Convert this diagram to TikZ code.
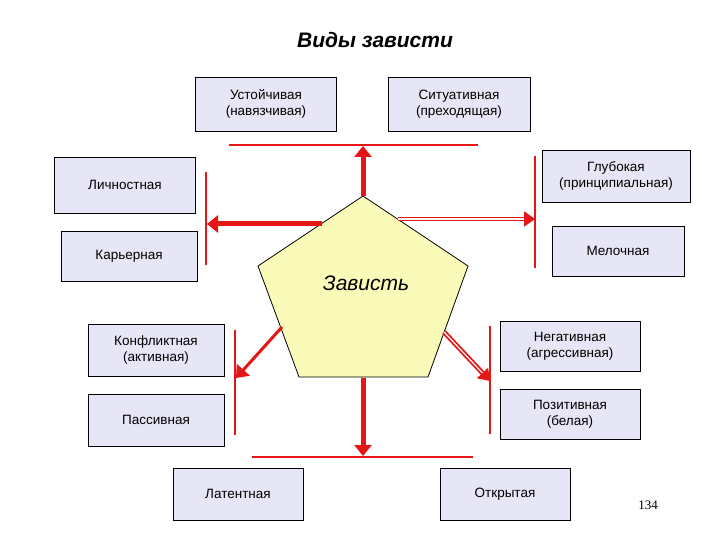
\documentclass[tikz,border=0pt]{standalone}
\usepackage{fontspec}
\setmainfont{Liberation Sans}
\newfontfamily\pagefont{Liberation Serif}
\usetikzlibrary{arrows.meta}

\definecolor{boxfill}{RGB}{230,230,246}
\definecolor{envyfill}{RGB}{250,250,185}
\definecolor{barred}{RGB}{228,22,22}

\tikzset{
    kindbox/.style={draw, thick, fill=boxfill, align=center, inner sep=2pt,
        font=\fontsize{13.5}{16}\selectfont},
    redbar/.style={barred, line width=2.4pt},
    fatarrow/.style={barred, line width=5pt, -{Triangle[length=11pt, width=17pt]}},
    twinarrow/.style={barred, line width=1.8pt, double=white, double distance=1.2pt,
        -{Triangle[length=11pt, width=15pt]}},
}

\begin{document}
\begin{tikzpicture}[x=1pt, y=-1pt, line cap=butt]
    \useasboundingbox (0,0) rectangle (720,540);

    \node[font=\fontsize{21}{25}\selectfont\bfseries\itshape] (title) at (375,40) {Виды зависти};

    % boxes
    \node[kindbox, minimum width=141pt, minimum height=54pt] (stable) at (266,104) {Устойчивая\\(навязчивая)};
    \node[kindbox, minimum width=142pt, minimum height=54pt] (situative) at (459,104) {Ситуативная\\(преходящая)};
    \node[kindbox, minimum width=141pt, minimum height=56pt] (personal) at (125,185) {Личностная};
    \node[kindbox, minimum width=136pt, minimum height=50pt] (career) at (129,256) {Карьерная};
    \node[kindbox, minimum width=148pt, minimum height=52pt] (deep) at (616,176) {Глубокая\\(принципиальная)};
    \node[kindbox, minimum width=132pt, minimum height=50pt] (petty) at (618,251) {Мелочная};
    \node[kindbox, minimum width=136pt, minimum height=52pt] (conflict) at (156,350) {Конфликтная\\(активная)};
    \node[kindbox, minimum width=136pt, minimum height=52pt] (passive) at (156,420) {Пассивная};
    \node[kindbox, minimum width=140pt, minimum height=50pt] (negative) at (570,346) {Негативная\\(агрессивная)};
    \node[kindbox, minimum width=140pt, minimum height=50pt] (positive) at (570,414) {Позитивная\\(белая)};
    \node[kindbox, minimum width=130pt, minimum height=52pt] (latent) at (238,494) {Латентная};
    \node[kindbox, minimum width=130pt, minimum height=52pt] (open) at (505,494) {Открытая};

    % bars
    \coordinate (topL) at (229,145);  \coordinate (topR) at (478,145);
    \coordinate (leftT) at (206,172); \coordinate (leftB) at (206,265);
    \coordinate (rightT) at (535,156); \coordinate (rightB) at (535,268);
    \coordinate (lowlT) at (235,330); \coordinate (lowlB) at (235,435);
    \coordinate (lowrT) at (490,326); \coordinate (lowrB) at (490,434);
    \coordinate (botL) at (252,457);  \coordinate (botR) at (473,457);
    \draw[redbar] (topL) -- (topR);
    \draw[redbar] (leftT) -- (leftB);
    \draw[redbar] (rightT) -- (rightB);
    \draw[redbar] (lowlT) -- (lowlB);
    \draw[redbar] (lowrT) -- (lowrB);
    \draw[redbar] (botL) -- (botR);

    % pentagon
    \coordinate (pA) at (363,196);
    \coordinate (pB) at (468,266);
    \coordinate (pC) at (428,377);
    \coordinate (pD) at (299,377);
    \coordinate (pE) at (258,266);
    \draw[thick, fill=envyfill, line join=miter] (pA) -- (pB) -- (pC) -- (pD) -- (pE) -- cycle;
    \node[font=\fontsize{21}{25}\selectfont\itshape] (envy) at (366,283) {Зависть};

    % arrows
    \coordinate (upEnd) at (363,146);
    \coordinate (botM) at (363,378);
    \coordinate (downEnd) at (363,456);
    \coordinate (leftS) at (322,224);  \coordinate (leftE) at (207,224);
    \coordinate (rightS) at (398,219); \coordinate (rightE) at (535,219);
    \coordinate (dlS) at (282,327);    \coordinate (dlE) at (236,378);
    \coordinate (drS) at (444,332);    \coordinate (drE) at (490,381);
    \draw[fatarrow] (pA) -- (upEnd);
    \draw[fatarrow] (botM) -- (downEnd);
    \draw[fatarrow] (leftS) -- (leftE);
    \draw[twinarrow] (rightS) -- (rightE);
    \draw[fatarrow, line width=3pt] (dlS) -- (dlE);
    \draw[twinarrow] (drS) -- (drE);

    \node[font=\pagefont\fontsize{13}{15}\selectfont] (page) at (648,505) {134};
\end{tikzpicture}
\end{document}
